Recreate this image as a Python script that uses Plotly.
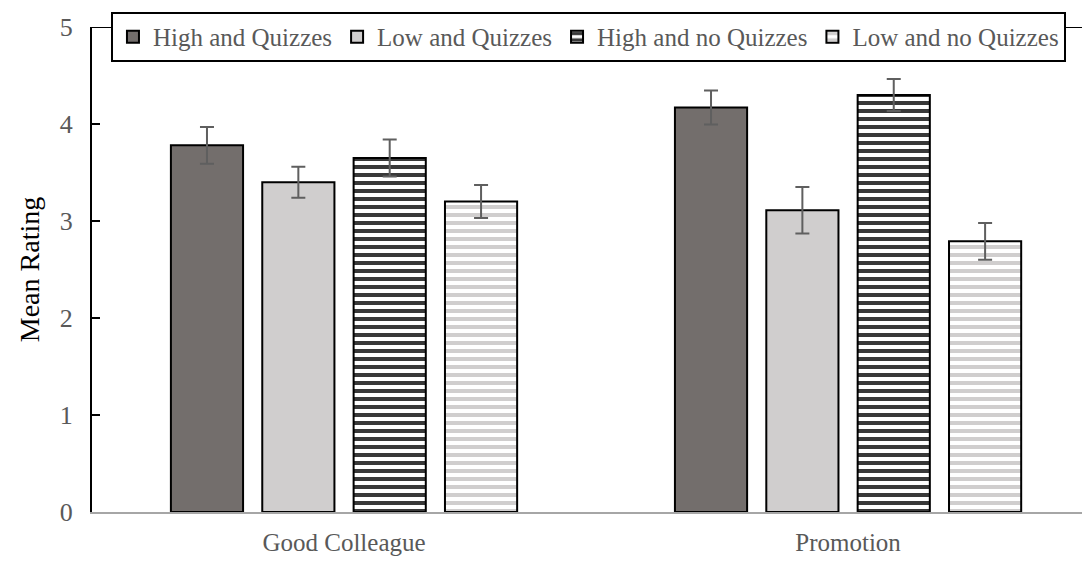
import plotly.graph_objects as go

categories = ["Good Colleague", "Promotion"]
series_names = ["High and Quizzes", "Low and Quizzes", "High and no Quizzes", "Low and no Quizzes"]
high_quiz = [3.78, 4.17]
low_quiz = [3.40, 3.11]
high_noquiz = [3.65, 4.30]
low_noquiz = [3.20, 2.79]
err_high_quiz = [0.19, 0.175]
err_low_quiz = [0.16, 0.24]
err_high_noquiz = [0.19, 0.165]
err_low_noquiz = [0.17, 0.19]

values = [high_quiz, low_quiz, high_noquiz, low_noquiz]
errors = [err_high_quiz, err_low_quiz, err_high_noquiz, err_low_noquiz]
fills = ["#736e6c", "#d0cece", "white", "white"]
patterns = [
    dict(shape=""),
    dict(shape=""),
    dict(shape="-", fgcolor="#393939", bgcolor="white", size=8, solidity=0.5, fillmode="overlay", fgopacity=1),
    dict(shape="-", fgcolor="#d0cece", bgcolor="white", size=8, solidity=0.5, fillmode="overlay", fgopacity=1),
]

FONT = "Liberation Serif, Times New Roman, serif"

fig = go.Figure()
for name, v, e, c, p in zip(series_names, values, errors, fills, patterns):
    fig.add_trace(go.Bar(
        name=name, x=categories, y=v,
        marker=dict(color=c, line=dict(color="black", width=2), pattern=p),
        error_y=dict(type="data", array=e, visible=True, color="#5f5f5f", thickness=2, width=7),
    ))

fig.add_shape(type="line", xref="paper", yref="y", x0=0, x1=1, y0=5, y1=5,
              line=dict(color="black", width=2), layer="below")

fig.update_layout(
    width=1082, height=554,
    margin=dict(l=84, r=0, t=19, b=50, autoexpand=False),
    paper_bgcolor="white", plot_bgcolor="white",
    barmode="group", bargap=0.275, bargroupgap=0.21,
    font=dict(family=FONT, color="#595959", size=25),
    showlegend=True,
    legend=dict(
        orientation="h", x=0.019, xanchor="left", y=1.031, yanchor="top",
        bgcolor="white", bordercolor="black", borderwidth=2,
        font=dict(family=FONT, size=25, color="#595959"),
        itemwidth=30,
    ),
    xaxis=dict(
        range=[-0.5, 1.48], showline=True, linecolor="#a6a6a6", linewidth=2,
        ticks="", showgrid=False, zeroline=False, automargin=False,
        tickfont=dict(family=FONT, size=25, color="#595959"),
        ticklabelstandoff=7,
    ),
    yaxis=dict(
        range=[0, 5], tickvals=[0, 1, 2, 3, 4, 5], showline=True, linecolor="black",
        linewidth=2, ticks="inside", ticklen=8, tickcolor="black", tickwidth=2,
        showgrid=False, zeroline=False, automargin=False,
        tickfont=dict(family=FONT, size=26, color="#595959"),
        ticklabelstandoff=12,
        title=dict(text="Mean Rating", font=dict(family=FONT, size=28, color="black"), standoff=12),
    ),
)

fig.write_html("out.html")
